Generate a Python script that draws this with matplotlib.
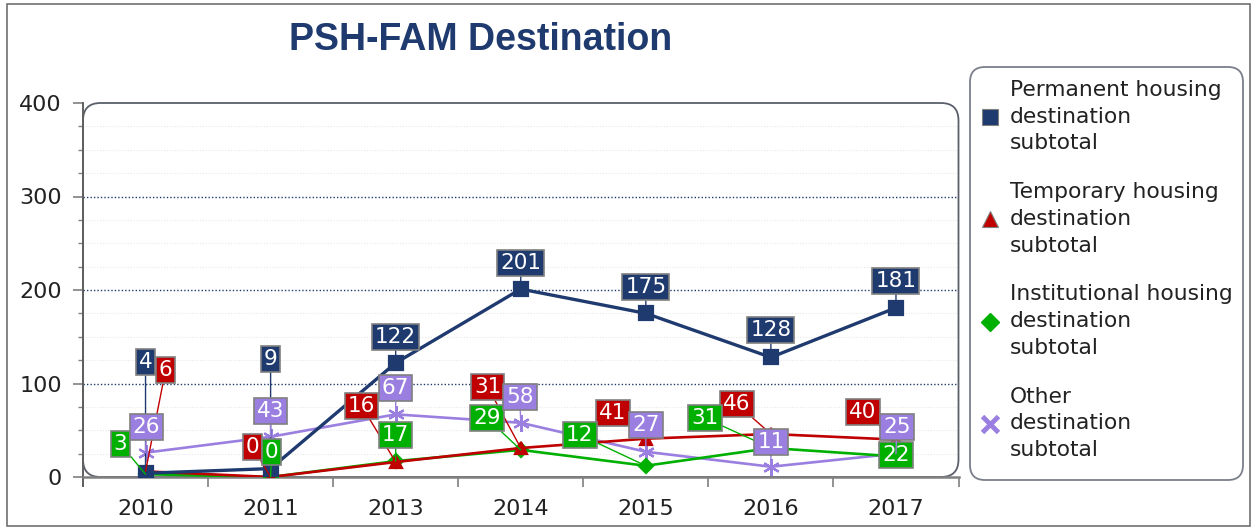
import matplotlib
matplotlib.use("Agg")
import matplotlib.pyplot as plt
from matplotlib.lines import Line2D
from matplotlib.patches import FancyBboxPatch, Rectangle
from matplotlib.ticker import MultipleLocator, FixedLocator, NullFormatter, FixedFormatter

# data
years = ["2010", "2011", "2013", "2014", "2015", "2016", "2017"]
permanent = [4, 9, 122, 201, 175, 128, 181]
temporary = [6, 0, 16, 31, 41, 46, 40]
institutional = [3, 0, 17, 29, 12, 31, 22]
other = [26, 43, 67, 58, 27, 11, 25]

NAVY = "#1f3a6e"
RED = "#c00000"
GREEN = "#00b000"
PURPLE = "#9b7fe0"
GRAY = "#808080"

# label offsets from the point, in pixels (dx, dy up)
OFF_PERM = [(0, 111), (0, 110), (0, 26), (0, 26), (0, 26), (0, 27), (0, 27)]
OFF_TEMP = [(20, 101), (-18, 30), (-34, 56), (-33, 61), (-33, 26), (-34, 30), (-33, 28)]
OFF_INST = [(-25, 30), (1, 25), (0, 26), (-34, 32), (-66, 31), (-66, 30), (0, 1)]
OFF_OTH = [(1, 26), (0, 26), (0, 26), (-1, 26), (0, 27), (0, 25), (1, 27)]

W, H = 1251, 529
fig = plt.figure(figsize=(W / 100, H / 100), dpi=100)
fig.patches.append(Rectangle((7 / W, 3 / H), 1243 / W, 522 / H, transform=fig.transFigure,
                             fill=False, ec="#707070", lw=1.2))

ax = fig.add_axes([83 / W, 1 - 477 / H, 875.5 / W, 374 / H])
x = list(range(len(years)))

series = [
    (permanent, NAVY, "s", 10, 2.4, OFF_PERM),
    (temporary, RED, "^", 9, 1.9, OFF_TEMP),
    (institutional, GREEN, "D", 7, 1.9, OFF_INST),
    (other, PURPLE, (6, 2, 0), 12, 1.9, OFF_OTH),
]
for vals, col, mk, ms, lw, offs in series[::-1]:
    ax.plot(x, vals, color=col, lw=lw, marker=mk, ms=ms, mec=col, mew=1.6, zorder=3)

for vals, col, mk, ms, lw, offs in series:
    for xi, v, (dx, dy) in zip(x, vals, offs):
        ax.annotate(str(v), (xi, v), xytext=(dx, dy), textcoords="offset pixels",
                    ha="center", va="center", fontsize=15.5, color="white",
                    bbox=dict(boxstyle="square,pad=0.14", fc=col, ec=GRAY, lw=1.2),
                    arrowprops=dict(arrowstyle="-", color=col, lw=1.0,
                                    shrinkA=0, shrinkB=0),
                    zorder=5, annotation_clip=False)

ax.set_xlim(-0.5, 6.5)
ax.set_ylim(0, 400)
ax.yaxis.set_major_locator(MultipleLocator(100))
ax.yaxis.set_minor_locator(MultipleLocator(25))
ax.xaxis.set_major_locator(FixedLocator([i - 0.5 for i in range(8)]))
ax.xaxis.set_major_formatter(NullFormatter())
ax.xaxis.set_minor_locator(FixedLocator(x))
ax.xaxis.set_minor_formatter(FixedFormatter(years))
ax.tick_params(axis="x", which="major", length=7.2, width=1.2, color=GRAY)
ax.tick_params(axis="x", which="minor", length=0, pad=16, labelsize=16, labelcolor="#222222")
ax.tick_params(axis="y", which="major", length=7.2, width=1.2, color=GRAY, pad=8,
               labelsize=16, labelcolor="#222222")
ax.tick_params(axis="y", which="minor", length=3.6, width=1.0, color=GRAY)

for yv in (100, 200, 300):
    ax.axhline(yv, color=NAVY, lw=1.0, ls=(0, (1, 1.5)), zorder=1)
for yv in range(25, 400, 25):
    if yv % 100:
        ax.axhline(yv, color="#e8e8e8", lw=0.8, ls=(0, (1, 1.5)), zorder=0.5)

for s in ("top", "right"):
    ax.spines[s].set_visible(False)
ax.spines["left"].set_color("#606060")
ax.spines["left"].set_linewidth(1.4)
ax.spines["left"].set_bounds(-10, 400)
ax.spines["bottom"].set_color(GRAY)
ax.spines["bottom"].set_linewidth(1.8)
ax.patch.set_visible(False)
ax.add_patch(FancyBboxPatch((0, 0), 1, 1, boxstyle="round,pad=0,rounding_size=0.02",
                            transform=ax.transAxes, fill=False, ec="#5a5f6a", lw=1.3,
                            mutation_aspect=875.5 / 374, clip_on=False, zorder=2))

fig.text(481 / W, 1 - 40 / H, "PSH-FAM Destination", ha="center", va="center",
         fontsize=27, fontweight="bold", color=NAVY, family="Liberation Sans")

# legend box
fig.patches.append(FancyBboxPatch((970 / W, 1 - 480 / H), 273 / W, 413 / H,
                                  boxstyle="round,pad=0,rounding_size=0.012",
                                  mutation_aspect=W / H, transform=fig.transFigure,
                                  fill=False, ec="#7a7f8a", lw=1.3))
names = ["Permanent housing\ndestination\nsubtotal",
         "Temporary housing\ndestination\nsubtotal",
         "Institutional housing\ndestination\nsubtotal",
         "Other\ndestination\nsubtotal"]
handles = [
    Line2D([], [], ls="none", marker="s", ms=11, color=NAVY, mec=GRAY, mew=0.8),
    Line2D([], [], ls="none", marker="^", ms=12, color=RED, mec=GRAY, mew=0.8),
    Line2D([], [], ls="none", marker="D", ms=9, color=GREEN, mec=GREEN),
    Line2D([], [], ls="none", marker="x", ms=11, color=PURPLE, mew=3.5),
]
leg = fig.legend(handles, names, loc="upper left", bbox_to_anchor=(979 / W, 1 - 80 / H),
                 frameon=False, fontsize=15.7, borderpad=0, borderaxespad=0,
                 handlelength=1.0, handletextpad=0.4, labelspacing=1.32,
                 labelcolor="#222222")
for t in leg.get_texts():
    t.set_linespacing(1.42)

fig.savefig("out.png", dpi=100)
